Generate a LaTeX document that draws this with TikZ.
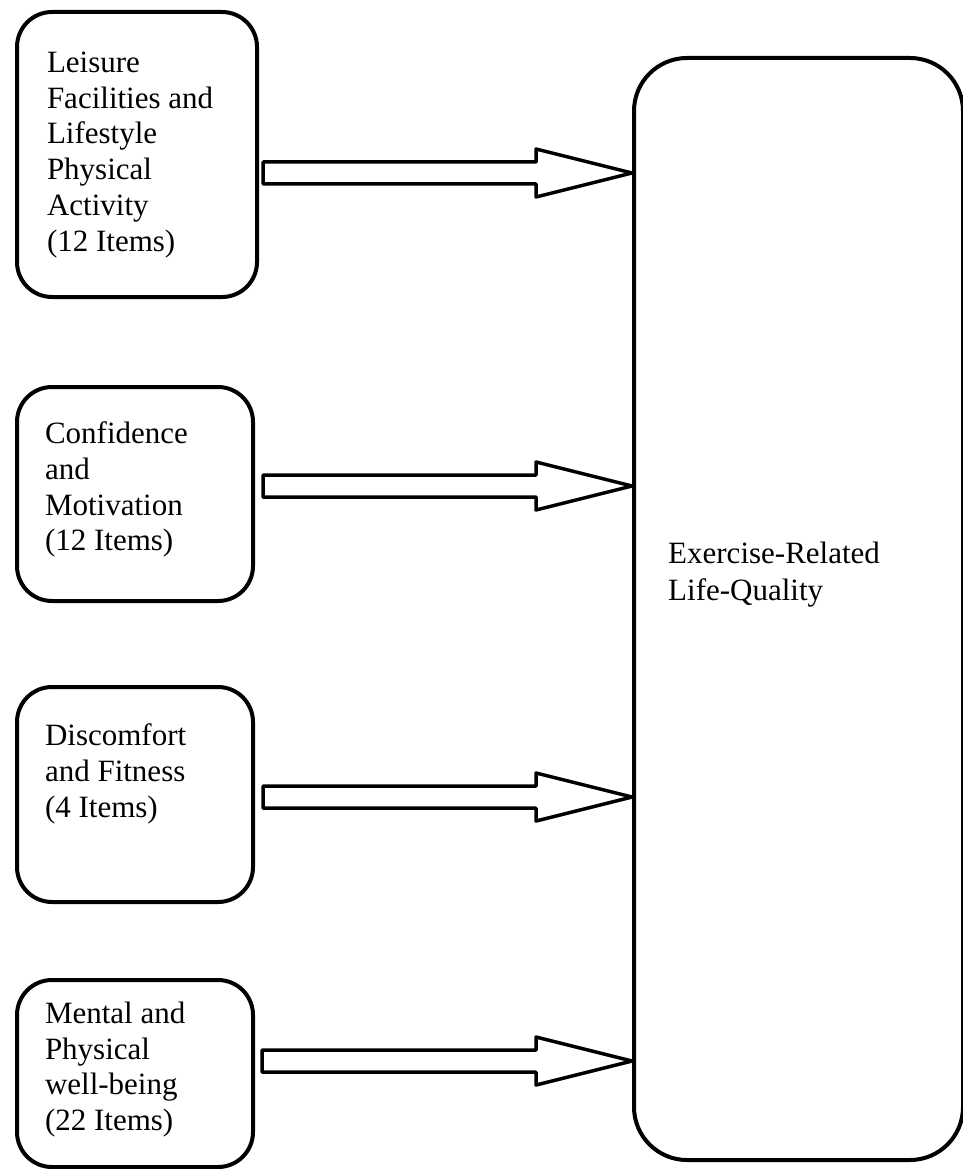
\documentclass[tikz,border=0pt]{standalone}
\usepackage{fontspec}
\setmainfont{Liberation Serif}
\usetikzlibrary{calc}
\tikzset{
  factor/.style={draw, line width=4pt, rounded corners=35pt, anchor=north west, inner xsep=28pt},
  outcome/.style={draw, line width=4pt, rounded corners=53pt, anchor=north west, minimum width=329pt, minimum height=1102pt, inner sep=0pt},
  blockarrow/.style={draw, line width=3.5pt, line join=round},
}
\newcommand{\factortext}[2]{\parbox[c][#1pt][t]{180pt}{#2}}

\begin{document}
\begin{tikzpicture}[x=1pt,y=-1pt,font=\fontsize{31}{35.7}\selectfont]
  \useasboundingbox (0,0) rectangle (963,1169);
  % four factor boxes
  \node[factor, inner xsep=30pt, inner ysep=40pt] (b1) at (15,10) {\factortext{205}{Leisure\\Facilities and\\Lifestyle\\Physical\\Activity\\(12 Items)}};
  \node[factor, inner ysep=35pt] (b2) at (15,385) {\factortext{144}{Confidence\\and\\Motivation\\(12 Items)}};
  \node[factor, inner ysep=37pt] (b3) at (15,685) {\factortext{141}{Discomfort\\and Fitness\\(4 Items)}};
  \node[factor, inner ysep=22pt] (b4) at (15,978) {\factortext{143}{Mental and\\Physical\\well-being\\(22 Items)}};
  % outcome box
  \node[outcome] (life) at (632,56) {};
  \node[anchor=north west, inner sep=0pt, align=left, font=\fontsize{31}{37}\selectfont] (lifetext) at ($(life.north west)+(36,486)$) {Exercise-Related\\Life-Quality};
  % block arrows
  \foreach \n/\y/\gap in {b1/173/4, b2/486/8, b3/797/8, b4/1061/7}
    \draw[blockarrow] ($(\n.east |- 0,\y)+(\gap,-11)$) -- ($(life.west |- 0,\y)+(-96,-11)$) -- ++(0,-13)
      -- (life.west |- 0,\y) -- ($(life.west |- 0,\y)+(-96,24)$) -- ++(0,-13)
      -- ($(\n.east |- 0,\y)+(\gap,11)$) -- cycle;
\end{tikzpicture}
\end{document}
